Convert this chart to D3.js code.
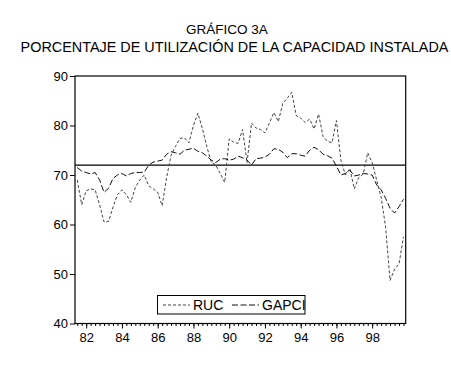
<!DOCTYPE html>
<html>
<head>
<meta charset="utf-8">
<script src="https://cdn.jsdelivr.net/npm/d3@7"></script>
<style>
  body { margin: 0; background: #fff; }
  svg { font-family: "Liberation Sans", Arial, sans-serif; }
</style>
</head>
<body>
<svg width="451" height="367"></svg>
<script>
// quarterly series 1981Q3 - 1999Q4
var startYear = 1981, startQ = 3;

var ruc = [69.0, 64.0, 66.8, 67.2, 67.0, 64.0, 60.5, 60.6, 63.5, 66.0,
           67.0, 66.0, 64.5, 67.5, 69.0, 70.0, 67.8, 67.2, 66.5, 63.8,
           69.5, 74.0, 75.8, 77.4, 77.5, 76.5, 80.0, 82.5, 79.4, 75.7,
           72.6, 72.0, 70.3, 68.5, 77.3, 76.6, 76.4, 79.2, 72.5, 80.5,
           79.5, 79.2, 78.5, 80.5, 82.6, 80.8, 84.5, 85.5, 86.7, 82.0,
           81.5, 80.6, 81.3, 79.3, 82.3, 77.8, 76.8, 76.5, 81.0, 73.0,
           70.0, 71.3, 67.2, 69.5, 70.2, 74.5, 72.5, 69.0, 65.5, 59.5,
           48.7, 51.0, 52.0, 57.5];

var gapci = [71.5, 70.8, 70.5, 70.2, 70.5, 69.0, 66.5, 67.3, 69.3, 70.0,
             70.3, 69.8, 70.3, 70.5, 70.5, 70.6, 72.0, 72.6, 72.8, 73.0,
             74.2, 74.7, 74.5, 74.2, 75.0, 75.2, 75.4, 74.8, 74.5, 73.8,
             73.0, 72.5, 73.2, 73.3, 73.0, 73.2, 73.8, 73.5, 73.0, 72.0,
             73.3, 73.4, 73.6, 74.2, 75.3, 75.2, 74.6, 73.5, 74.3, 74.3,
             74.0, 73.8, 75.0, 75.6, 75.1, 74.2, 73.9, 73.4, 71.8, 70.0,
             70.3, 71.0, 69.8, 70.0, 70.3, 70.2, 70.0, 68.0, 67.0, 65.3,
             63.3, 62.3, 63.6, 65.1];

var refLevel = 72;
var yTicks = [40, 50, 60, 70, 80, 90];
var xLabels = ["82", "84", "86", "88", "90", "92", "94", "96", "98"];
var seriesNames = ["RUC", "GAPCI"];

var quarters = [];
for (var i = 0; i < ruc.length; i++) {
  var k = (startQ - 1) + i;
  quarters.push((startYear + Math.floor(k / 4)) + "Q" + (k % 4 + 1));
}

var svg = d3.select("svg"),
    pLeft = 75, pRight = 405.7, pTop = 76, pBottom = 323.5;

var x = d3.scaleLinear().domain([0, quarters.length]).range([pLeft, pRight]);
var y = d3.scaleLinear().domain([40, 90]).range([pBottom, pTop]);

// titles
svg.append("text").attr("x", 227).attr("y", 33.5).attr("text-anchor", "middle")
    .attr("font-size", 13.5).text("GRÁFICO 3A");
svg.append("text").attr("x", 234.5).attr("y", 52).attr("text-anchor", "middle")
    .attr("font-size", 14.4).text("PORCENTAJE DE UTILIZACIÓN DE LA CAPACIDAD INSTALADA");

// y axis
var yAxis = svg.append("g").attr("transform", "translate(" + pLeft + ",0)")
    .call(d3.axisLeft(y).tickValues(yTicks).tickSize(5).tickPadding(2));
yAxis.select(".domain").remove();
yAxis.selectAll("text").attr("font-size", 13).attr("font-family", null).attr("fill", "#000");
yAxis.selectAll("line").attr("stroke", "#000");

// x axis: minor ticks for each quarter, labels on Q1 of even years
var minor = svg.append("g").attr("transform", "translate(0," + pBottom + ")")
    .call(d3.axisBottom(x).tickValues(d3.range(quarters.length).map(function(d) { return d + 0.5; }))
      .tickSize(2.5).tickFormat(""));
minor.select(".domain").remove();
minor.selectAll("line").attr("stroke", "#000");

var labelIdx = xLabels.map(function(l) { return quarters.indexOf("19" + l + "Q1"); });
var major = svg.append("g").attr("transform", "translate(0," + pBottom + ")")
    .call(d3.axisBottom(x).tickValues(labelIdx.map(function(d) { return d + 0.5; }))
      .tickSize(5).tickPadding(4)
      .tickFormat(function(d, i) { return xLabels[i]; }));
major.select(".domain").remove();
major.selectAll("text").attr("font-size", 13).attr("font-family", null).attr("fill", "#000");
major.selectAll("line").attr("stroke", "#000");

// frame
svg.append("rect").attr("x", pLeft).attr("y", pTop)
    .attr("width", pRight - pLeft).attr("height", pBottom - pTop)
    .attr("fill", "none").attr("stroke", "#000").attr("stroke-width", 1.2);

// reference line
svg.append("line").attr("x1", pLeft).attr("x2", pRight)
    .attr("y1", y(refLevel)).attr("y2", y(refLevel))
    .attr("stroke", "#000").attr("stroke-width", 1.2);

var line = d3.line()
    .x(function(d, i) { return x(i + 0.5); })
    .y(function(d) { return y(d); });

var styles = [
  { data: ruc, dash: "3,2", color: "#444" },
  { data: gapci, dash: "6,2.5", color: "#111" }
];

styles.forEach(function(s) {
  svg.append("path").datum(s.data)
      .attr("d", line)
      .attr("fill", "none")
      .attr("stroke", s.color)
      .attr("stroke-width", 1)
      .attr("stroke-dasharray", s.dash);
});

// legend
var lg = svg.append("g");
lg.append("rect").attr("x", 157.5).attr("y", 295.5).attr("width", 147.5).attr("height", 18.5)
    .attr("fill", "#fff").attr("stroke", "#000").attr("stroke-width", 1);
var legendItems = [
  { name: seriesNames[0], x0: 163, x1: 190, tx: 193, dash: "3,2", color: "#444" },
  { name: seriesNames[1], x0: 232, x1: 259, tx: 262, dash: "6,2.5", color: "#111" }
];
legendItems.forEach(function(d) {
  lg.append("line").attr("x1", d.x0).attr("x2", d.x1).attr("y1", 305).attr("y2", 305)
      .attr("stroke", d.color).attr("stroke-dasharray", d.dash);
  lg.append("text").attr("x", d.tx).attr("y", 310).attr("font-size", 14).text(d.name);
});
</script>
</body>
</html>
